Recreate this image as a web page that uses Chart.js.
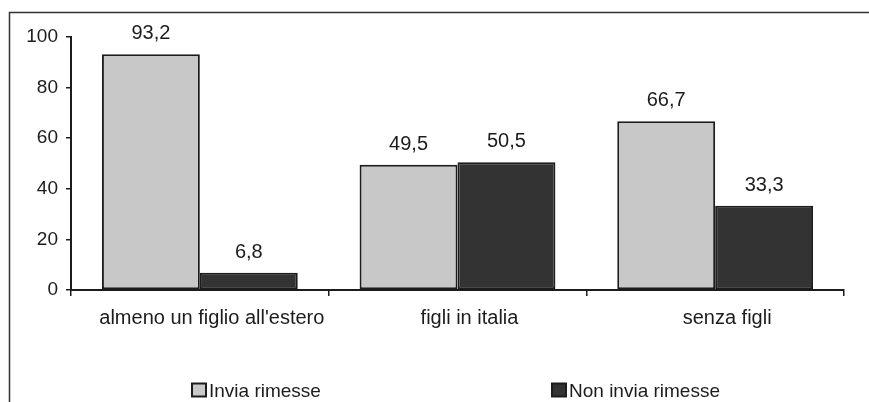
<!DOCTYPE html>
<html>
<head>
<meta charset="utf-8">
<script src="https://cdn.jsdelivr.net/npm/chart.js@4"></script>
<style>
  html, body { margin: 0; padding: 0; background: #fff; }
  #wrap { width: 869px; height: 402px; position: relative; }
</style>
</head>
<body>
<div id="wrap"><canvas id="chart"></canvas></div>
<script>
const categories = ["almeno un figlio all'estero", 'figli in italia', 'senza figli'];
const seriesNames = ['Invia rimesse', 'Non invia rimesse'];
const inviaRimesse = [93.2, 49.5, 66.7];
const nonInviaRimesse = [6.8, 50.5, 33.3];
const yTicks = [0, 20, 40, 60, 80, 100];

const font = '"Liberation Sans", Arial, sans-serif';
const ink = '#1c1c1c';

// outer frame of the original figure (top and left edge only are visible)
const frame = {
  id: 'frame',
  beforeDraw(chart) {
    const ctx = chart.ctx
    ctx.save()
    ctx.strokeStyle = '#333'
    ctx.lineWidth = 1.5
    ctx.beginPath()
    ctx.moveTo(9.5, chart.height)
    ctx.lineTo(9.5, 12.5)
    ctx.lineTo(chart.width, 12.5)
    ctx.stroke()
    ctx.restore()
  }
};

// value above every bar, with decimal comma
const valueLabels = {
  id: 'valueLabels',
  afterDatasetsDraw(chart) {
    const ctx = chart.ctx
    ctx.save()
    ctx.font = '20px ' + font
    ctx.fillStyle = ink
    ctx.textAlign = 'center'
    ctx.textBaseline = 'alphabetic'
    chart.data.datasets.forEach((ds, i) => {
      chart.getDatasetMeta(i).data.forEach((bar, j) => {
        ctx.fillText(ds.data[j].toFixed(1).replace('.', ','), bar.x, bar.y - 15)
      })
    })
    ctx.restore()
  }
};

// legend drawn like the original: small box tight against the text, items far apart
const legendRow = {
  id: 'legendRow',
  afterDraw(chart) {
    const ctx = chart.ctx
    const xs = [192, 552]
    ctx.save()
    ctx.font = '19px ' + font
    ctx.textBaseline = 'alphabetic'
    ctx.textAlign = 'left'
    chart.data.datasets.forEach((ds, i) => {
      const x = xs[i]
      ctx.fillStyle = ds.backgroundColor
      ctx.fillRect(x, 383.5, 14, 13)
      ctx.strokeStyle = ink
      ctx.lineWidth = 2
      ctx.strokeRect(x, 383.5, 14, 13)
      ctx.fillStyle = ink
      ctx.fillText(ds.label, x + 17, 397)
    })
    ctx.restore()
  }
};

const chart = new Chart(document.getElementById('chart'), {
  type: 'bar',
  data: {
    labels: categories,
    datasets: [
      {
        label: seriesNames[0],
        data: inviaRimesse,
        backgroundColor: '#c8c8c8',
        borderColor: ink,
        borderWidth: 2,
        borderSkipped: false
      },
      {
        label: seriesNames[1],
        data: nonInviaRimesse,
        backgroundColor: '#333333',
        borderColor: ink,
        borderWidth: 2,
        borderSkipped: false
      }
    ]
  },
  options: {
    responsive: true,
    maintainAspectRatio: false,
    animation: false,
    devicePixelRatio: 1,
    layout: { padding: { left: 9, right: 25, top: 37, bottom: 0 } },
    datasets: {
      bar: { categoryPercentage: 0.76, barPercentage: 1 }
    },
    plugins: {
      legend: { display: false },
      tooltip: { enabled: false }
    },
    scales: {
      x: {
        afterFit(scale) { scale.height = 112 },
        grid: {
          offset: true,
          drawOnChartArea: false,
          drawTicks: true,
          tickLength: 6,
          color: ink,
          lineWidth: 1.5
        },
        border: { display: true, color: ink, width: 2 },
        ticks: {
          color: ink,
          padding: 10,
          labelOffset: 12,
          maxRotation: 0,
          font: { family: font, size: 20 }
        }
      },
      y: {
        min: 0,
        max: 100,
        afterFit(scale) { scale.width = 62 },
        afterBuildTicks(scale) { scale.ticks = yTicks.map(v => ({ value: v })) },
        grid: {
          drawOnChartArea: false,
          drawTicks: true,
          tickLength: 5,
          color: ink,
          lineWidth: 1.5
        },
        border: { display: true, color: ink, width: 2 },
        ticks: {
          color: ink,
          padding: 8,
          font: { family: font, size: 19 }
        }
      }
    }
  },
  plugins: [frame, valueLabels, legendRow]
});
</script>
</body>
</html>
